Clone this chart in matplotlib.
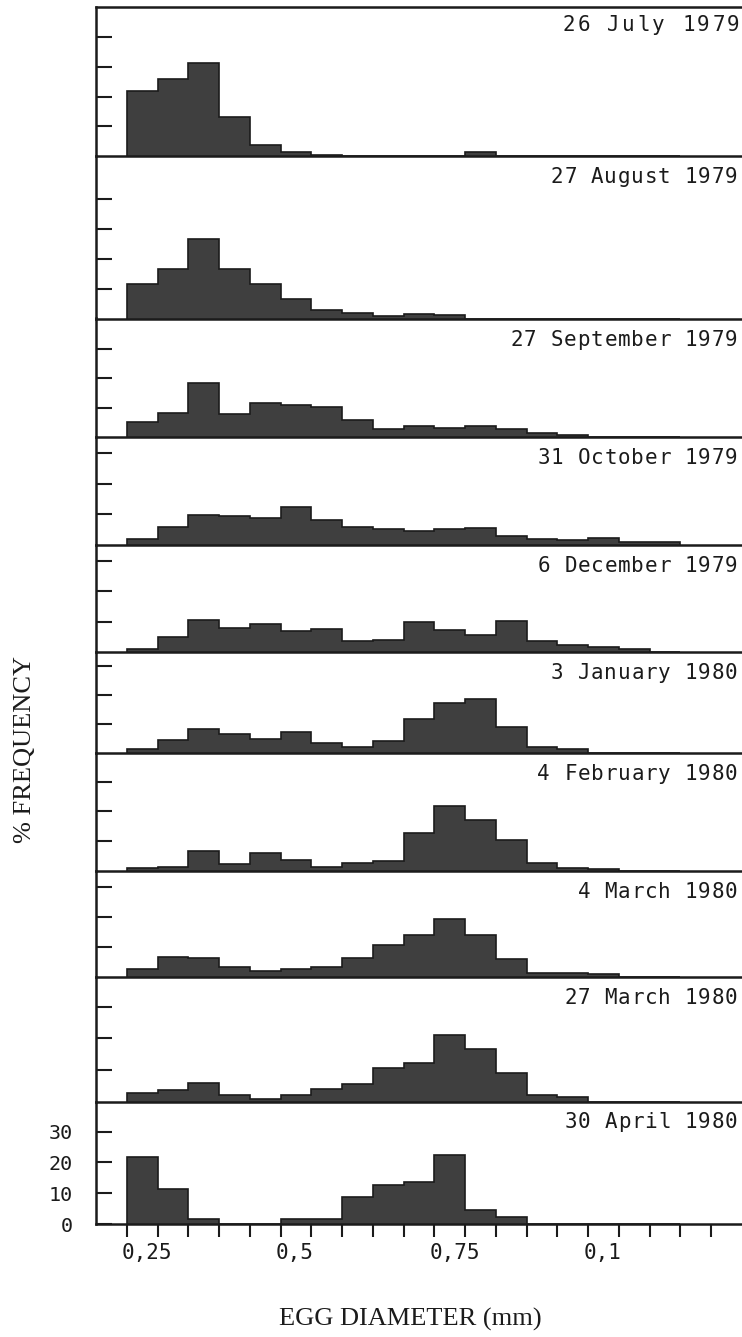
import numpy as np
import matplotlib.pyplot as plt
import matplotlib.transforms as mtransforms

# egg diameter classes (mm), 0.05 mm wide, from 0.25 to 1.15
bin_edges = np.round(np.arange(0.25, 1.1501, 0.05), 2)

# sampling dates, top to bottom
dates = ['26 July 1979', '27 August 1979', '27 September 1979',
         '31 October 1979', '6 December 1979', '3 January 1980',
         '4 February 1980', '4 March 1980', '27 March 1980',
         '30 April 1980']

# % frequency of eggs in each diameter class, one list per sample
freq_jul79 = [22.0, 26.0, 31.2, 13.3, 3.7, 1.3, 0.3, 0, 0, 0, 0, 1.2, 0, 0, 0, 0, 0, 0]
freq_aug79 = [11.6, 16.5, 26.5, 16.6, 11.6, 6.7, 2.8, 1.8, 1.0, 1.6, 1.1, 0, 0, 0, 0, 0, 0, 0]
freq_sep79 = [5.2, 8.4, 18.3, 8.0, 11.8, 11.0, 10.4, 5.8, 2.7, 3.9, 3.0, 4.0, 2.8, 1.5, 0.7, 0, 0, 0]
freq_oct79 = [1.9, 6.0, 9.8, 9.3, 8.7, 12.5, 8.2, 5.8, 5.2, 4.6, 5.1, 5.6, 3.0, 2.0, 1.6, 2.3, 1.1, 1.0]
freq_dec79 = [1.1, 5.0, 10.4, 8.0, 9.2, 6.9, 7.6, 3.5, 4.1, 9.8, 7.2, 5.6, 10.1, 3.5, 2.4, 1.5, 0.9, 0]
freq_jan80 = [1.4, 4.6, 8.3, 6.5, 4.8, 7.3, 3.6, 2.3, 4.2, 11.7, 17.1, 18.5, 8.9, 2.1, 1.5, 0, 0, 0]
freq_feb80 = [0.8, 1.1, 6.6, 2.2, 5.9, 3.7, 1.2, 2.5, 3.3, 12.7, 21.9, 16.9, 10.3, 2.6, 1.0, 0.5, 0, 0]
freq_mar80 = [2.7, 6.7, 6.4, 3.3, 2.0, 2.6, 3.3, 6.1, 10.6, 13.9, 19.2, 13.9, 5.8, 1.1, 1.1, 1.0, 0, 0]
freq_mar80b = [2.7, 3.7, 5.9, 2.1, 0.9, 2.1, 3.9, 5.5, 10.6, 12.1, 21.1, 16.6, 9.1, 2.0, 1.3, 0, 0, 0]
freq_apr80 = [21.7, 11.3, 1.7, 0, 0, 1.6, 1.6, 8.7, 12.7, 13.8, 22.4, 4.6, 2.2, 0, 0, 0, 0, 0]

samples = [freq_jul79, freq_aug79, freq_sep79, freq_oct79, freq_dec79,
           freq_jan80, freq_feb80, freq_mar80, freq_mar80b, freq_apr80]

# x axis: a tick every 0.05 mm, only four of them labelled
x_ticks = np.round(np.arange(0.25, 1.2001, 0.05), 2)
x_label_pos = [0.25, 0.5, 0.75, 1.0]
x_label_txt = ['0,25', '0,5', '0,75', '0,1']
y_label_pos = [0, 10, 20, 30]

# ── page layout in pixels ─────────────────────────────────────
W, H = 742, 1337
left = 96
panel_tops = [7, 156, 318.5, 437.3, 545, 652, 753.3, 870.5, 976.7, 1101.5]
panel_bots = panel_tops[1:] + [1224]
y_tops = [50.2, 54.5, 40.4, 35.1, 35.3, 34.7, 39.6, 35.4, 39.5, 39.8]
n_yticks = [4, 4, 3, 3, 3, 3, 3, 3, 3, 3]

ink = '#1b1b1b'
fill = '#3f3f3f'
mono = 'DejaVu Sans Mono'
serif = 'Liberation Serif'

fig = plt.figure(figsize=(W / 100, H / 100), dpi=100)
fig.patch.set_facecolor('white')


def spaced_text(s, x_right, y, pitch, size):
    # typewriter style: one glyph per fixed cell, right aligned
    n = len(s)
    for i, ch in enumerate(s):
        if ch == ' ':
            continue
        cx = x_right - (n - i - 0.5) * pitch
        fig.text(cx / W, 1 - y / H, ch, ha='center', va='center',
                 family=mono, size=size, color=ink)


for i, (date, freq) in enumerate(zip(dates, samples)):
    top, bot = panel_tops[i], panel_bots[i]
    ax = fig.add_axes([left / W, 1 - bot / H, (W - left) / W, (bot - top) / H])
    ax.patch.set_alpha(0)

    # histogram as one filled step outline
    ax.stairs(freq, bin_edges, fill=True, facecolor=fill,
              edgecolor=ink, linewidth=1.2)

    ax.set_xlim(0.2, 1.25)
    ax.set_ylim(0, y_tops[i])

    ax.spines['right'].set_visible(False)
    ax.spines['top'].set_visible(i == 0)
    for sp in ('left', 'bottom', 'top'):
        ax.spines[sp].set_linewidth(1.8)
        ax.spines[sp].set_color(ink)

    ax.set_yticks(np.arange(1, n_yticks[i] + 1) * 10)
    ax.tick_params(axis='y', direction='in', length=11.5, width=1.5,
                   color=ink, labelleft=False)
    ax.tick_params(axis='x', bottom=False, labelbottom=False)

    # sample date in the upper right corner
    if i == 0:
        spaced_text(date, 741, top + 18, 15.0, 15)
    else:
        spaced_text(date, 738, top + 21, 13.4, 15)

    if i == len(samples) - 1:
        # bottom panel carries the scales
        ax.set_yticks(y_label_pos, labels=[str(v) for v in y_label_pos])
        ax.tick_params(axis='y', labelleft=True, pad=16.5, labelsize=14.5,
                       labelfontfamily=mono, labelcolor=ink)
        ax.set_xticks(x_label_pos, labels=x_label_txt)
        ax.set_xticks([t for t in x_ticks if t not in x_label_pos], minor=True)
        ax.tick_params(axis='x', which='both', bottom=True, direction='out',
                       length=9.5, width=1.5, color=ink)
        ax.tick_params(axis='x', labelbottom=True, pad=4, labelsize=15,
                       labelfontfamily=mono, labelcolor=ink)
        shift = mtransforms.ScaledTranslation(-5 / 100, 0, fig.dpi_scale_trans)
        for lbl in ax.get_xticklabels():
            lbl.set_horizontalalignment('left')
            lbl.set_transform(lbl.get_transform() + shift)

# axis titles
fig.text(25 / W, 1 - 750 / H, '% FREQUENCY', rotation=90, ha='center',
         va='center', family=serif, size=19, color=ink)
fig.text(410 / W, 1 - 1319 / H, 'EGG DIAMETER (mm)', ha='center',
         va='center', family=serif, size=19, color=ink)

fig.savefig('out.png', dpi=100)
